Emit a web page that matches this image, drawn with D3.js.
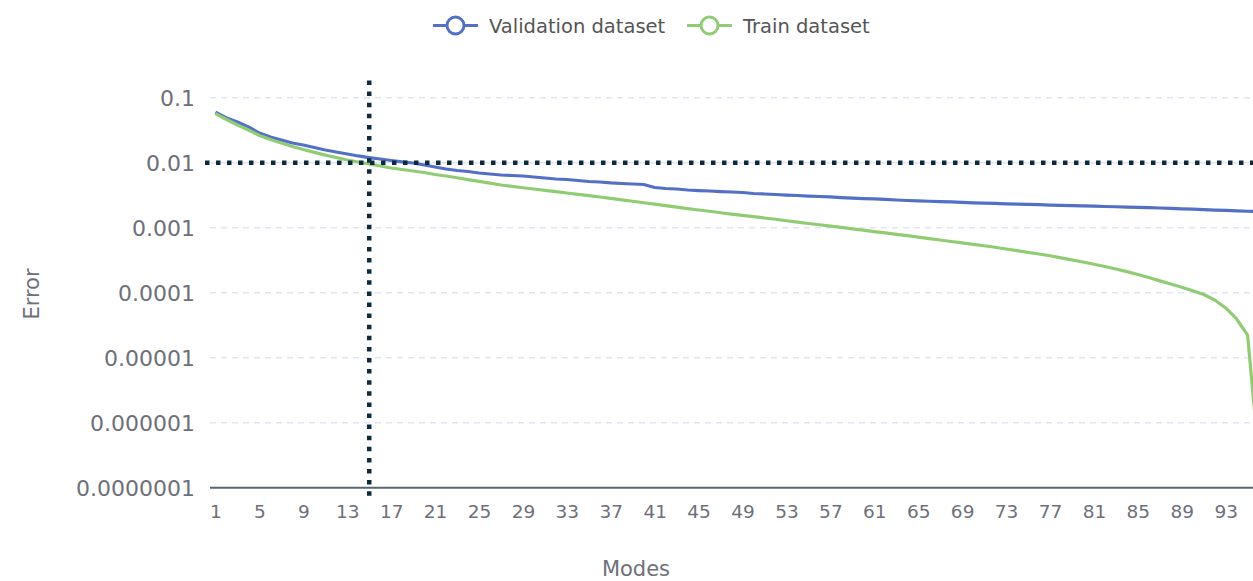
<!DOCTYPE html>
<html>
<head>
<meta charset="utf-8">
<script src="https://cdn.jsdelivr.net/npm/d3@7"></script>
<style>
  html, body { margin: 0; padding: 0; background: #fff; overflow: hidden; }
  text { font-family: "DejaVu Sans", sans-serif; }
</style>
</head>
<body>
<div class="chart"></div>
<script>
var svgWidth = 1253;
var svgHeight = 581;

// modes 1..96 (the last few run past the right edge of the window)
var modes = d3.range(1, 97);

var validationError = [
  0.0600, 0.0488, 0.0422, 0.0354, 0.0286, 0.0248, 0.0223, 0.0201, 0.0187, 0.0171,
  0.0157, 0.0146, 0.0136, 0.0127, 0.0120, 0.0114, 0.0108, 0.0103, 0.00989, 0.00922,
  0.00859, 0.00800, 0.00759, 0.00732, 0.00695, 0.00670, 0.00647, 0.00636, 0.00624, 0.00603,
  0.00582, 0.00561, 0.00552, 0.00532, 0.00514, 0.00505, 0.00488, 0.00479, 0.00470, 0.00462,
  0.00415, 0.00401, 0.00394, 0.00380, 0.00373, 0.00367, 0.00360, 0.00354, 0.00348, 0.00336,
  0.00330, 0.00324, 0.00318, 0.00313, 0.00307, 0.00302, 0.00297, 0.00291, 0.00286, 0.00281,
  0.00277, 0.00272, 0.00267, 0.00262, 0.00258, 0.00255, 0.00251, 0.00249, 0.00245, 0.00241,
  0.00238, 0.00236, 0.00233, 0.00231, 0.00228, 0.00226, 0.00223, 0.00221, 0.00219, 0.00217,
  0.00214, 0.00212, 0.00210, 0.00208, 0.00205, 0.00203, 0.00201, 0.00198, 0.00195, 0.00193,
  0.00190, 0.00187, 0.00185, 0.00182, 0.00179, 0.00177
];

var trainError = [
  0.0570, 0.0462, 0.0380, 0.0318, 0.0262, 0.0227, 0.0201, 0.0178, 0.0160, 0.0144,
  0.0131, 0.0120, 0.0110, 0.01025, 0.00955, 0.00890, 0.00829, 0.00786, 0.00745, 0.00707,
  0.00658, 0.00624, 0.00586, 0.00550, 0.00516, 0.00484, 0.00454, 0.00433, 0.00412, 0.00394,
  0.00376, 0.00358, 0.00342, 0.00326, 0.00311, 0.00297, 0.00282, 0.00268, 0.00255, 0.00242,
  0.00230, 0.00218, 0.00207, 0.00197, 0.00187, 0.00179, 0.00170, 0.00162, 0.00155, 0.00148,
  0.00141, 0.00135, 0.00128, 0.00122, 0.00116, 0.00111, 0.00106, 0.00101, 0.000962, 0.000915,
  0.000871, 0.000832, 0.000791, 0.000753, 0.000714, 0.000680, 0.000647, 0.000613, 0.000584, 0.000555,
  0.000528, 0.000501, 0.000470, 0.000444, 0.000418, 0.000394, 0.000370, 0.000344, 0.000320, 0.000297,
  0.000274, 0.000253, 0.000232, 0.000211, 0.000191, 0.000171, 0.000152, 0.000136, 0.000121, 0.000107,
  0.0000938, 0.0000772, 0.0000582, 0.0000394, 0.0000223, 0.000000307
];

var yTicks = [0.1, 0.01, 0.001, 0.0001, 0.00001, 0.000001, 0.0000001];
var xTickModes = modes.filter(function(m, i) { return i % 4 === 0; });

var cutoffMode = 15;
var cutoffError = 0.01;

var series = [
  { name: "Validation dataset", values: validationError, color: "#5470c6" },
  { name: "Train dataset", values: trainError, color: "#91cc75" }
];

var svg = d3.select(".chart")
  .append("svg")
  .attr("width", svgWidth)
  .attr("height", svgHeight);

var gridLeft = 210;
var firstX = 215.5;
var step = 10.98;

var xScale = d3.scalePoint()
  .domain(modes)
  .range([firstX, firstX + step * (modes.length - 1)]);

var yScale = d3.scaleLog()
  .domain([1e-7, 0.1])
  .range([487.7, 97.7]);

var fmt = d3.format(".7~f");

// dashed grid lines
svg.append("g")
  .selectAll("line")
  .data(yTicks.slice(0, -1))
  .enter()
  .append("line")
  .attr("x1", gridLeft)
  .attr("x2", svgWidth)
  .attr("y1", d => yScale(d))
  .attr("y2", d => yScale(d))
  .attr("stroke", "#e0e6f1")
  .attr("stroke-width", 1.5)
  .attr("stroke-dasharray", "6,5");

// y axis labels
var leftAxis = d3.axisLeft(yScale)
  .tickValues(yTicks)
  .tickFormat(fmt)
  .tickSize(0)
  .tickPadding(0);

var yAxis = svg.append("g")
  .attr("transform", "translate(195,0)")
  .call(leftAxis);
yAxis.select(".domain").remove();
yAxis.selectAll("text")
  .attr("font-family", "DejaVu Sans, sans-serif")
  .attr("font-size", 22)
  .attr("fill", "#6e7079")
  .attr("dy", "0.34em");

// x axis
var bottomAxis = d3.axisBottom(xScale)
  .tickValues(xTickModes)
  .tickSize(0)
  .tickPadding(17);

var xAxis = svg.append("g")
  .attr("transform", `translate(0, ${yScale(1e-7)})`)
  .call(bottomAxis);
xAxis.select(".domain").remove();
xAxis.selectAll("text")
  .attr("font-family", "DejaVu Sans, sans-serif")
  .attr("font-size", 18.5)
  .attr("fill", "#6e7079");

svg.append("line")
  .attr("x1", gridLeft)
  .attr("x2", svgWidth)
  .attr("y1", yScale(1e-7))
  .attr("y2", yScale(1e-7))
  .attr("stroke", "#5b6670")
  .attr("stroke-width", 2);

// series lines
var line = d3.line()
  .x((d, i) => xScale(modes[i]))
  .y(d => yScale(d));

svg.append("g")
  .selectAll("path")
  .data(series)
  .enter()
  .append("path")
  .attr("d", d => line(d.values))
  .attr("fill", "none")
  .attr("stroke", d => d.color)
  .attr("stroke-width", 3.2)
  .attr("stroke-linejoin", "round");

// dotted cut-off lines
svg.append("line")
  .attr("x1", 205)
  .attr("x2", svgWidth)
  .attr("y1", yScale(cutoffError))
  .attr("y2", yScale(cutoffError))
  .attr("stroke", "#0c2a3c")
  .attr("stroke-width", 4.5)
  .attr("stroke-dasharray", "4.5,6.5");

svg.append("line")
  .attr("x1", xScale(cutoffMode))
  .attr("x2", xScale(cutoffMode))
  .attr("y1", 80.5)
  .attr("y2", 501)
  .attr("stroke", "#0c2a3c")
  .attr("stroke-width", 4.5)
  .attr("stroke-dasharray", "4.5,6.6");

// legend
var legendX = [433, 687];
var legend = svg.append("g")
  .selectAll("g")
  .data(series)
  .enter()
  .append("g")
  .attr("transform", (d, i) => `translate(${legendX[i]}, 25.5)`);

legend.append("line")
  .attr("x1", 0)
  .attr("x2", 45)
  .attr("stroke", d => d.color)
  .attr("stroke-width", 3);

legend.append("circle")
  .attr("cx", 22.5)
  .attr("r", 8.5)
  .attr("fill", "#fff")
  .attr("stroke", d => d.color)
  .attr("stroke-width", 3);

legend.append("text")
  .attr("x", 56)
  .attr("y", 7.5)
  .attr("font-size", 19.5)
  .attr("fill", "#555")
  .text(d => d.name);

// axis titles
svg.append("text")
  .attr("transform", "translate(39, 294) rotate(-90)")
  .attr("text-anchor", "middle")
  .attr("font-size", 21)
  .attr("fill", "#6e7079")
  .text("Error");

svg.append("text")
  .attr("x", 636)
  .attr("y", 576)
  .attr("text-anchor", "middle")
  .attr("font-size", 21)
  .attr("fill", "#6e7079")
  .text("Modes");
</script>
</body>
</html>
